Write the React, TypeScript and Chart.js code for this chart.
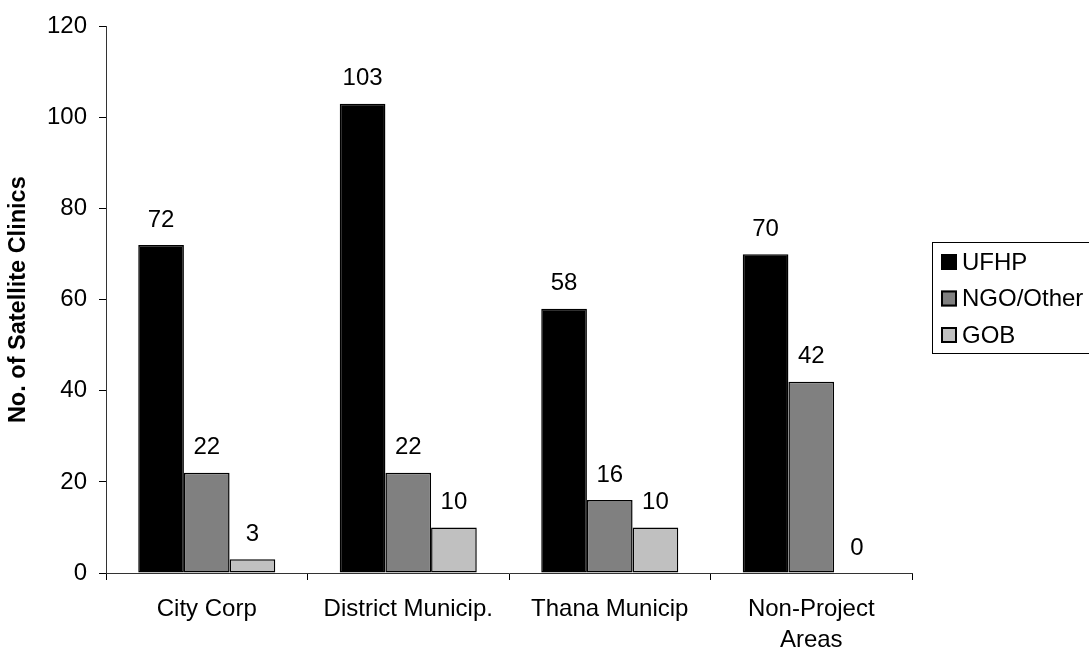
import React, { useEffect, useRef } from "react";
import { Chart, registerables } from "chart.js";

Chart.register(...registerables);

const categories: (string | string[])[] = ["City Corp", "District Municip.", "Thana Municip", ["Non-Project", "Areas"]];
const seriesNames = ["UFHP", "NGO/Other", "GOB"];
const ufhpValues = [72, 103, 58, 70];
const ngoValues = [22, 22, 16, 42];
const gobValues = [3, 10, 10, 0];
const seriesColors = ["#000000", "#808080", "#c0c0c0"];
const yTicks = [0, 20, 40, 60, 80, 100, 120];
const yTitle = "No. of Satellite Clinics";

const FONT = "'Liberation Sans', Arial, sans-serif";
const FS = 24;

const labelPlugin = {
  id: "barLabels",
  afterDatasetsDraw(chart: any) {
    const ctx = chart.ctx;
    ctx.save();
    ctx.font = `${FS}px ${FONT}`;
    ctx.fillStyle = "#000";
    ctx.textAlign = "center";
    ctx.textBaseline = "middle";
    chart.data.datasets.forEach((ds: any, i: number) => {
      const meta = chart.getDatasetMeta(i);
      meta.data.forEach((el: any, j: number) => {
        ctx.fillText(String(ds.data[j]), el.x, el.y - 25);
      });
    });
    ctx.restore();
  },
};

const legendPlugin = {
  id: "boxLegend",
  afterDraw(chart: any) {
    const ctx = chart.ctx;
    const left = chart.chartArea.right + 20;
    const top = 242;
    ctx.save();
    ctx.strokeStyle = "#000";
    ctx.lineWidth = 1;
    ctx.strokeRect(left + 0.5, top + 0.5, 200, 111);
    ctx.font = `${FS}px ${FONT}`;
    ctx.textBaseline = "middle";
    ctx.textAlign = "left";
    chart.data.datasets.forEach((ds: any, i: number) => {
      const cy = top + 20 + i * 36.5;
      ctx.fillStyle = ds.backgroundColor;
      ctx.fillRect(left + 9, cy - 8, 16, 16);
      ctx.lineWidth = 2;
      ctx.strokeStyle = "#000";
      ctx.strokeRect(left + 10, cy - 7, 14, 14);
      ctx.fillStyle = "#000";
      ctx.fillText(ds.label, left + 30, cy + 1);
    });
    ctx.restore();
  },
};

export default function App() {
  const ref = useRef<HTMLCanvasElement | null>(null);
  useEffect(() => {
    if (!ref.current) return;
    const values = [ufhpValues, ngoValues, gobValues];
    const chart = new Chart(ref.current, {
      type: "bar",
      data: {
        labels: categories,
        datasets: seriesNames.map((name, i) => ({
          label: name,
          data: values[i],
          backgroundColor: seriesColors[i],
          borderColor: "#000",
          borderWidth: 1.5,
          borderSkipped: false,
          barPercentage: 1,
          categoryPercentage: 0.68,
        })),
      },
      options: {
        animation: false,
        responsive: true,
        maintainAspectRatio: false,
        layout: { padding: { top: 24, right: 177, left: 0, bottom: 0 } },
        plugins: { legend: { display: false }, tooltip: { enabled: false } },
        scales: {
          x: {
            grid: { display: true, drawOnChartArea: false, tickLength: 7, color: "#000", offset: true },
            border: { display: true, color: "#333", width: 1 },
            ticks: { color: "#000", font: { family: FONT, size: FS, lineHeight: 1.3 }, padding: 14, maxRotation: 0, autoSkip: false },
            afterFit: (s: any) => { s.height = 77; },
          },
          y: {
            min: 0,
            max: 120,
            afterBuildTicks: (s: any) => { s.ticks = yTicks.map((v) => ({ value: v })); },
            grid: { display: true, drawOnChartArea: false, tickLength: 7, color: "#000" },
            border: { display: true, color: "#333", width: 1 },
            ticks: { color: "#000", font: { family: FONT, size: FS }, padding: 12 },
            title: { display: true, text: yTitle, color: "#000", font: { family: FONT, size: 23.5, weight: "bold", lineHeight: 1.2 }, padding: { top: 4, bottom: 0 } },
            afterFit: (s: any) => { s.width = 106; },
          },
        },
      },
      plugins: [labelPlugin, legendPlugin],
    });
    return () => chart.destroy();
  }, []);
  return (
    <div style={{ position: "absolute", left: 0, top: 0, width: 1089, height: 650, background: "#fff" }}>
      <canvas ref={ref} />
    </div>
  );
}
